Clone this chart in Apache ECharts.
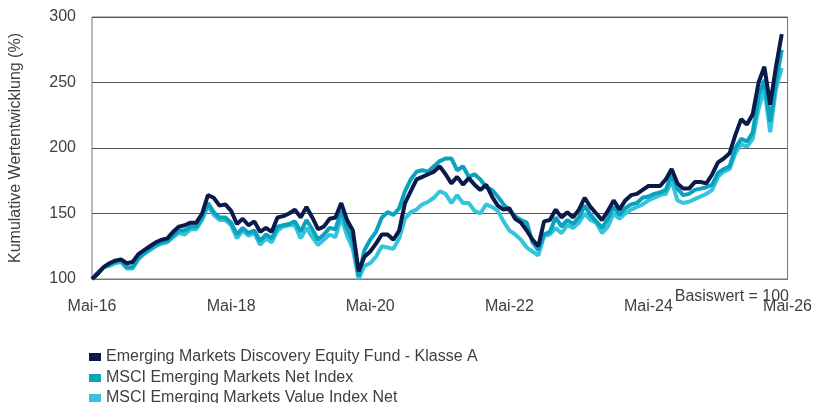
<!DOCTYPE html>
<html>
<head>
<meta charset="utf-8">
<script src="https://cdn.jsdelivr.net/npm/echarts@6/dist/echarts.min.js"></script>
<style>
html,body{margin:0;padding:0;background:#fff;}
#c{width:815px;height:403px;}
</style>
</head>
<body>
<div id="c"></div>
<script>
var seriesNames = [
  'Emerging Markets Discovery Equity Fund - Klasse A',
  'MSCI Emerging Markets Net Index',
  'MSCI Emerging Markets Value Index Net'
];
var xTickLabels = ['Mai-16','Mai-18','Mai-20','Mai-22','Mai-24','Mai-26'];
var yTicks = [100,150,200,250,300];

var fund = [100,104,109,112,114,115,112,113,119,122,125,128,130,131,136,140,141,143,143,150,
  164,162,156,157,152,142,146,141,144,136,139,136,147,148,150,153,147,155,147,138,
  140,146,147,158,145,137,106,117,121,127,134,134,130,137,158,167,176,178,180,182,
  186,180,173,178,172,177,172,168,172,163,156,153,154,146,143,137,130,125,144,145,
  153,147,151,147,153,162,155,150,145,152,160,153,160,164,165,168,171,171,171,176,
  184,173,169,169,174,174,173,180,189,192,196,210,222,218,226,250,262,233,262,287];

var emNet = [100,105,109,111,113,114,109,109,116,120,123,126,128,129,133,137,137,140,140,147,
  158,151,147,147,143,134,139,135,137,129,134,131,140,141,142,144,136,145,138,130,
  134,139,138,152,139,129,102,122,130,136,147,151,149,154,167,176,182,183,182,186,
  190,192,192,183,186,178,180,176,170,168,163,157,152,148,145,143,128,122,134,136,
  147,140,145,142,147,156,149,144,139,146,155,149,154,157,158,162,163,165,166,168,
  180,169,164,165,168,169,170,172,181,184,186,200,207,205,212,240,252,220,250,275];

var emValue = [100,104,109,110,112,113,108,108,115,119,122,125,127,128,132,135,134,138,138,145,
  156,149,145,145,141,131,137,133,135,126,131,128,137,140,141,141,131,139,132,126,
  130,134,132,147,133,123,100,110,112,117,125,124,123,131,146,151,153,157,159,162,
  167,165,158,164,158,158,152,150,157,155,152,144,137,134,130,124,121,118,133,134,
  139,135,141,139,143,150,145,143,135,140,150,146,150,153,155,157,160,162,164,165,
  175,160,158,159,161,163,165,168,178,182,184,196,203,201,207,230,245,212,245,261];

var colors = ['#0a1a4a', '#0aa2bf', '#34c5dc'];

function pairs(arr){ return arr.map(function(v,i){ return [i, v]; }); }

var chart = echarts.init(document.getElementById('c'), null, {renderer:'canvas'});
var font = '"Liberation Sans", Arial, sans-serif';
var legendTops = [349, 370, 390];
var legends = seriesNames.map(function(n, i){
  return {
    orient: 'vertical', left: 89, top: legendTops[i], padding: 0,
    itemWidth: 12, itemHeight: 8, itemGap: 0,
    icon: 'rect',
    data: [n],
    textStyle: {fontSize: 16, color: '#404040', fontFamily: font, lineHeight: 16}
  };
});
chart.setOption({
  animation: false,
  color: colors,
  textStyle: {fontFamily: font},
  grid: {left: 92, right: 27, top: 17, bottom: 124, show: true, borderColor: '#777', borderWidth: 1},
  legend: legends,
  xAxis: {
    type: 'value', min: 0, max: 120, interval: 24,
    axisLine: {show: true, lineStyle: {color: '#777'}},
    axisTick: {show: false},
    splitLine: {show: false},
    axisLabel: {
      fontSize: 16, color: '#404040', margin: 20, fontFamily: font,
      formatter: function(v){ return xTickLabels[Math.round(v/24)]; }
    }
  },
  yAxis: {
    type: 'value', min: yTicks[0], max: yTicks[yTicks.length-1], interval: 50,
    axisLine: {show: false},
    axisTick: {show: false},
    splitLine: {show: true, lineStyle: {color: '#555', width: 1}},
    axisLabel: {fontSize: 16, color: '#404040', margin: 16, fontFamily: font}
  },
  graphic: [
    {type: 'text', x: 16, y: 148, rotation: Math.PI/2,
     style: {text: 'Kumulative Wertentwicklung (%)', fill: '#404040', font: '16px ' + font, textAlign: 'center', textVerticalAlign: 'middle'}},
    {type: 'text', x: 789, y: 297,
     style: {text: 'Basiswert = 100', fill: '#404040', font: '16px ' + font, textAlign: 'right', textVerticalAlign: 'middle'}}
  ],
  series: [
    {name: seriesNames[2], type: 'line', data: pairs(emValue), showSymbol: false, symbol: 'none', lineStyle: {width: 4, color: colors[2]}, itemStyle: {color: colors[2]}, z: 2},
    {name: seriesNames[1], type: 'line', data: pairs(emNet), showSymbol: false, symbol: 'none', lineStyle: {width: 4, color: colors[1]}, itemStyle: {color: colors[1]}, z: 3},
    {name: seriesNames[0], type: 'line', data: pairs(fund), showSymbol: false, symbol: 'none', lineStyle: {width: 4, color: colors[0]}, itemStyle: {color: colors[0]}, z: 4}
  ]
});
</script>
</body>
</html>
